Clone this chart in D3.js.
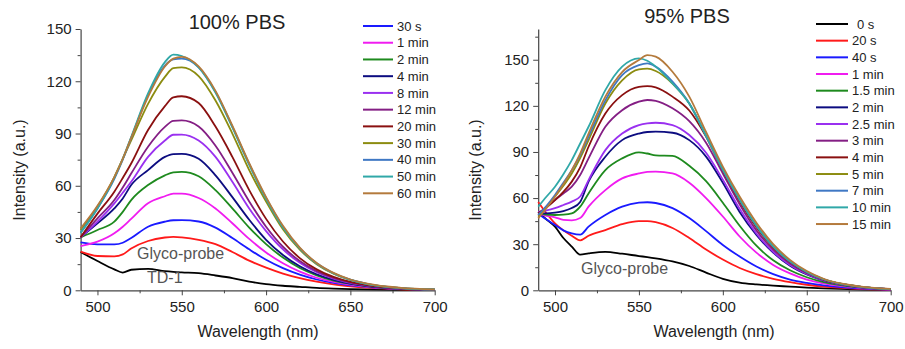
<!DOCTYPE html>
<html><head><meta charset="utf-8">
<script src="https://cdn.jsdelivr.net/npm/d3@7"></script>
<style>
html,body{margin:0;padding:0;background:#fff;}
text{font-family:"Liberation Sans",Arial,sans-serif;}
</style></head>
<body><svg id="chart" width="905" height="349"></svg>
<script>
// ---------- Left panel: 100% PBS ----------
const wlA = [490,500,510,515,520,530,540,545,550,560,570,580,590,600,610,620,630,640,650,660,680,700];
const namesA = ["TD-1","Glyco-probe","30 s","1 min","2 min","4 min","8 min","12 min","20 min","30 min","40 min","50 min","60 min"];
const inLegendA = [false,false,true,true,true,true,true,true,true,true,true,true,true];
const colorsA = ["#000000","#ff1a1a","#1a1aff","#f01cf0","#1e8a1e","#0c0c80","#9a30f0","#841e84","#8a1010","#8c8c10","#3f78c4","#30a8a8","#b47a3c"];
const valsA = [
 [22,16.8,12,10.2,11.8,12.3,11,10.6,10.3,9.8,8.5,7,5,3.5,2.6,2,1.4,1,0.7,0.5,0.2,0.1],
 [22.2,19.7,19.5,20.6,24,28.3,30.3,30.7,30.4,29,26.5,22,17,13,9.6,7,5,3.4,2.3,1.5,0.6,0.2],
 [27.5,26.4,26.4,27.3,30,36.5,39.4,40.2,40.3,39.5,36,30,23.5,17.5,12.7,9,6.2,4.2,2.8,1.9,0.8,0.3],
 [25.4,27.9,32.7,36.5,41,50,54,55.5,55.5,53,47,38.5,29.5,21.7,15.5,10.7,7.2,4.8,3.2,2,0.8,0.3],
 [30.4,34.6,39.4,45,51.8,60.4,66,67.7,68,65.5,57.5,47,36,26.5,18.8,12.8,8.6,5.6,3.7,2.3,0.9,0.3],
 [30.4,38.4,47,52.7,60.4,69,76.6,78.2,78.3,75.5,66,53.5,40.5,29,20.3,13.8,9.2,6,3.9,2.4,0.9,0.3],
 [30.4,39.4,49.9,56,62.3,76.6,86,89.3,89.4,86,76.6,62.3,47,34,23.5,15.8,10.4,6.7,4.3,2.7,1,0.4],
 [30.4,41.3,51.8,59,67,82.4,93.8,97.3,97.5,94,83,67.5,51,36.5,25,16.8,11,7.1,4.5,2.8,1,0.4],
 [30.4,44,56.6,64.5,72.8,92,105.7,110.8,111.4,107.5,94,76.6,57.5,41,28,18.5,12,7.7,4.8,3,1.1,0.4],
 [34.6,48,65,75.5,86,107,122.5,127.5,128,123,109,90,69,51,35,23.3,15,9.5,6,3.6,1.3,0.5],
 [33,47,64,75,87.5,112,129,132.5,133,128,114,94,72.5,53,36.5,24.2,15.5,9.8,6.1,3.7,1.3,0.5],
 [33,47,64.5,75.5,88,113,131,135.3,134.5,128,113.5,93.5,72,52.5,36,24,15.3,9.7,6,3.6,1.3,0.5],
 [35.5,48.5,65,75.5,87.5,111,128.5,133,134,128.5,114.5,94.5,73,53.5,37,24.5,15.7,10,6.2,3.8,1.4,0.5]
];
const yTicksA = [0,30,60,90,120,150];

// ---------- Right panel: 95% PBS ----------
const wlB = [490,495,500,505,510,515,520,530,540,550,555,560,570,580,590,600,610,620,630,640,650,660,680,700];
const namesB = ["0 s","20 s","40 s","1 min","1.5 min","2 min","2.5 min","3 min","4 min","5 min","7 min","10 min","15 min"];
const colorsB = ["#000000","#ff1a1a","#1a1aff","#f01cf0","#1e8a1e","#0c0c80","#9a30f0","#841e84","#8a1010","#8c8c10","#3f78c4","#30a8a8","#b47a3c"];
const valsB = [
 [51,46,41.4,34,28.4,23.2,24,25,23.8,22.3,21.6,20.8,18.8,15.8,11.5,7.5,5,3.8,3,2.4,1.8,1.3,0.6,0.2],
 [57.5,50,43.6,39,35.5,32.5,35.5,39.2,43,45,45,44.3,40.5,34,26.5,20,14.5,10.5,7.5,5.3,3.6,2.4,1,0.3],
 [50,46,42.5,39,37,36.2,41.4,49,54.4,57,57.3,56.8,53.5,47,38.5,29.5,22,15.5,10.5,7,4.8,3.2,1.3,0.4],
 [50,48.5,47.5,45.8,45.5,47,54.4,65.2,72.8,76,77,77.2,76,70,60,48,35,24.5,16.5,11,7,4.5,1.7,0.5],
 [50,49.2,49,49.2,50,54.4,63,78.2,85.8,89.7,89,87.8,87.5,81,71,57,42,29,19.5,13,8.5,5.3,2,0.6],
 [50,50,50.5,51.5,53.5,57.5,70.7,86.9,97.7,102,103,103.2,102.5,97.7,87,70,51,36,24.5,16,10.3,6.3,2.3,0.7],
 [51,52,53.5,55.5,57.7,61,71.7,91.2,102,107.5,108.6,109,107.5,101,89.5,72,53,37,25,16.5,10.6,6.5,2.4,0.7],
 [50,54,58.7,63,67.4,75,85.8,106.4,117.2,122.7,123.8,123.3,118.4,110,96,76,56,39,26.5,17.5,11.2,6.8,2.5,0.8],
 [50,54,58.7,64,70.7,80,93.4,115,127,132.4,132.8,132,126,117,100,78,58,41,28,18.5,11.7,7,2.6,0.8],
 [48,54,61,68,76,86,97.7,121.5,136.6,143.8,144.2,142.7,134.5,121.5,100.5,78.5,59,42,28.5,18.8,12,7.2,2.6,0.8],
 [49,55,62,70,78.2,88,100,123.6,140,146.5,147.6,145.5,135.7,121.5,100.5,78.5,59,42,28.5,18.8,12,7.2,2.6,0.8],
 [54.4,61,67.4,75.5,84.7,95.5,106.4,130.2,145.5,150.9,149.3,145.5,134.6,121.5,100.5,78.5,59,42,28.5,18.8,12,7.2,2.6,0.8],
 [46.8,53.5,61,69,78.2,89,102,126,142,149.8,153,152,142.2,126,103,80.5,61,44,30,19.8,12.5,7.5,2.7,0.9]
];
const yTicksB = [0,30,60,90,120,150];

const xTicks = [500,550,600,650,700];
const xMinor = [525,575,625,675];

const svg = d3.select("#chart");

function panel(o){
  const x = d3.scaleLinear().domain([490,700]).range([o.x0,o.x1]);
  const y = d3.scaleLinear().domain([0,o.ymax]).range([290.3,o.ytop]);
  const g = svg.append("g");
  const axisColor = "#444";
  const yMinor = d3.range(15,o.ymax,30);
  g.append("g").attr("transform",`translate(0,290.3)`)
    .call(d3.axisBottom(x).tickValues(xMinor).tickSize(3).tickFormat(""))
    .call(a=>a.select(".domain").remove()).selectAll("line").attr("stroke",axisColor);
  g.append("g").attr("transform",`translate(${o.x0},0)`)
    .call(d3.axisLeft(y).tickValues(yMinor).tickSize(3).tickFormat(""))
    .call(a=>a.select(".domain").remove()).selectAll("line").attr("stroke",axisColor);
  const xa = g.append("g").attr("transform",`translate(0,290.3)`)
    .call(d3.axisBottom(x).tickValues(xTicks).tickSize(5).tickSizeOuter(0).tickPadding(6));
  const ya = g.append("g").attr("transform",`translate(${o.x0},0)`)
    .call(d3.axisLeft(y).tickValues(o.yTicks).tickSize(5).tickSizeOuter(0).tickPadding(4));
  [xa,ya].forEach(a=>{
    a.select(".domain").attr("stroke",axisColor).attr("stroke-width",1.2);
    a.selectAll("line").attr("stroke",axisColor);
    a.selectAll("text").attr("font-size",15).attr("fill","#222").attr("font-family","Liberation Sans, Arial, sans-serif");
  });
  const line = d3.line().x((d,i)=>x(o.wl[i])).y(d=>y(d)).curve(d3.curveMonotoneX);
  o.vals.forEach((v,i)=>{
    g.append("path").attr("d",line(v)).attr("fill","none")
     .attr("stroke",o.colors[i]).attr("stroke-width",1.8).attr("stroke-linejoin","round");
  });
  g.append("text").attr("x",o.titleX).attr("y",o.titleY).attr("text-anchor","middle")
   .attr("font-size",20).attr("fill","#222").text(o.title);
  g.append("text").attr("x",o.xlabX).attr("y",337).attr("text-anchor","middle")
   .attr("font-size",16).attr("fill","#222").text("Wavelength (nm)");
  g.append("text").attr("transform",`translate(${o.ylabX},170) rotate(-90)`).attr("text-anchor","middle")
   .attr("font-size",16).attr("fill","#222").text("Intensity (a.u.)");
  const leg = g.append("g");
  let k = 0;
  o.names.forEach((n,i)=>{
    if(o.inLegend && !o.inLegend[i]) return;
    const cy = o.legY + k*o.legStep; k++;
    leg.append("line").attr("x1",o.legX).attr("x2",o.legX+o.legLen).attr("y1",cy).attr("y2",cy)
      .attr("stroke",o.colors[i]).attr("stroke-width",2);
    leg.append("text").attr("x",o.legX+o.legLen+4+(n==="0 s"?5:0)).attr("y",cy+4.6)
      .attr("font-size",13).attr("fill","#222").text(n);
  });
  return {x,y,g};
}

const A = panel({x0:80.6,x1:434.7,ymax:150,ytop:29,yTicks:yTicksA,wl:wlA,vals:valsA,colors:colorsA,
  names:namesA,inLegend:inLegendA,title:"100% PBS",titleX:237,titleY:29,xlabX:258,ylabX:25,
  legX:363,legLen:30,legY:26,legStep:16.73});
const B = panel({x0:538.2,x1:890.7,ymax:170,ytop:29,yTicks:yTicksB,wl:wlB,vals:valsB,colors:colorsB,
  names:namesB,inLegend:null,title:"95% PBS",titleX:687,titleY:23,xlabX:714,ylabX:481,
  legX:816,legLen:32,legY:24,legStep:16.67});

A.g.append("text").attr("x",137).attr("y",259).attr("font-size",16).attr("fill","#555").text("Glyco-probe");
A.g.append("text").attr("x",147).attr("y",283).attr("font-size",16).attr("fill","#555").text("TD-1");
B.g.append("text").attr("x",581).attr("y",274).attr("font-size",16).attr("fill","#555").text("Glyco-probe");
</script>
</body></html>
